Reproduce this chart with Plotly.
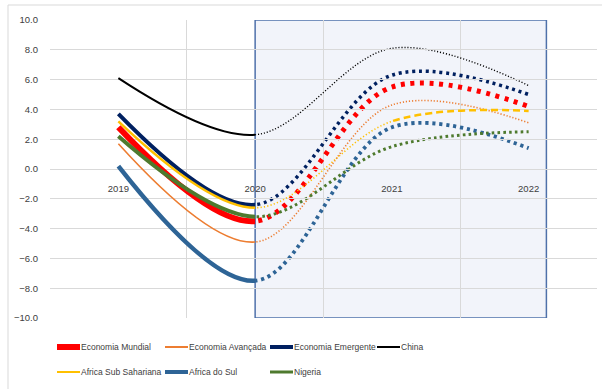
import plotly.graph_objects as go

# Crescimento do PIB (%), 2019-2022
years = ["2019", "2020", "2021", "2022"]
mundial = [2.8, -3.5, 5.5, 4.2]
avancada = [1.7, -4.9, 4.3, 3.1]
emergente = [3.7, -2.4, 6.3, 5.0]
china = [6.1, 2.3, 8.1, 5.6]
africa_ss = [3.2, -2.6, 3.2, 3.9]
africa_sul = [0.2, -7.5, 2.8, 1.4]
nigeria = [2.2, -3.2, 1.5, 2.5]

FONT = "Liberation Sans, Arial, sans-serif"
GRID = "#d9d9d9"
TEXT = "#404040"

# name, values, colour, solid width, dotted width, dotted dash pattern, legend width
series = [
    ("Economia Mundial", mundial, "#ff0000", 6, 5, "4px,5.6px", 6),
    ("Economia Avançada", avancada, "#ed7d31", 1.6, 1.6, "1.2px,1.9px", 2),
    ("Economia Emergente", emergente, "#002060", 4, 3.5, "3px,3.8px", 4),
    ("China", china, "#000000", 2, 1.4, "1.1px,1.9px", 2),
    ("Africa Sub Sahariana", africa_ss, "#ffc000", 2.5, 1.6, "1.2px,2.2px", 2),
    ("Africa do Sul", africa_sul, "#2e6496", 4.5, 3.8, "3.2px,3.8px", 4),
    ("Nigeria", nigeria, "#4e7a2e", 4, 3, "2.6px,3.2px", 3),
]

fig = go.Figure()

# empty trace so the main category axis carries gridlines and labels
fig.add_trace(go.Scatter(x=years, y=[None] * len(years), xaxis="x", yaxis="y",
                         showlegend=False, hoverinfo="skip"))

# observed part (2019-2020): solid smooth line, clipped by axis x2
for name, vals, color, w_solid, w_dot, dash, w_leg in series:
    fig.add_trace(go.Scatter(
        x=years, y=vals, xaxis="x2", yaxis="y", mode="lines", name=name,
        line=dict(color=color, width=w_solid, shape="spline"),
        showlegend=False, hoverinfo="skip"))

# projections (2020-2022): dotted smooth line, clipped by axis x3
for name, vals, color, w_solid, w_dot, dash, w_leg in series:
    if name == "Africa Sub Sahariana":
        continue
    fig.add_trace(go.Scatter(
        x=years, y=vals, xaxis="x3", yaxis="y", mode="lines", name=name,
        line=dict(color=color, width=w_dot, shape="spline", dash=dash),
        showlegend=False, hoverinfo="skip"))

# Africa Sub Sahariana: dotted to 2021, dashed afterwards
fig.add_trace(go.Scatter(
    x=years, y=africa_ss, xaxis="x4", yaxis="y", mode="lines",
    line=dict(color="#ffc000", width=1.6, shape="spline", dash="1.2px,2.2px"),
    showlegend=False, hoverinfo="skip"))
fig.add_trace(go.Scatter(
    x=years, y=africa_ss, xaxis="x5", yaxis="y", mode="lines",
    line=dict(color="#ffc000", width=2.5, shape="spline", dash="7px,4px"),
    showlegend=False, hoverinfo="skip"))

n = len(years)
full = [-0.5, n - 0.5]


def frac(v):
    return (v - full[0]) / (full[1] - full[0])


hidden = dict(visible=False, type="category", categoryarray=years, anchor="y",
              fixedrange=True)

# legend: two rows of four columns, short line sample followed by the name
PLOT_L, PLOT_W, PLOT_B, PLOT_H = 50, 547, 318, 298
col_px = [57, 165, 270, 377]
row_px = [347, 372]
sample_px = 23
shapes = [
    # chart area border
    dict(type="rect", xref="paper", yref="paper", x0=(8 - PLOT_L) / PLOT_W, x1=1.2,
         y0=-0.6, y1=(PLOT_B - 5) / PLOT_H, line=dict(color=GRID, width=1),
         fillcolor="rgba(0,0,0,0)", layer="below"),
    # projection period highlight
    dict(type="rect", xref="x", yref="y", x0=1, x1=3.13, y0=-10, y1=10,
         fillcolor="#f2f4fa", line=dict(color="#4f71aa", width=1.5), layer="below"),
]
annotations = []
for i, (name, vals, color, w_solid, w_dot, dash, w_leg) in enumerate(series):
    cx = col_px[i % 4]
    cy = row_px[i // 4]
    xp0 = (cx - PLOT_L) / PLOT_W
    xp1 = (cx + sample_px - PLOT_L) / PLOT_W
    yp = (PLOT_B - cy) / PLOT_H
    shapes.append(dict(type="line", xref="paper", yref="paper", x0=xp0, x1=xp1,
                       y0=yp, y1=yp, line=dict(color=color, width=w_leg)))
    annotations.append(dict(xref="paper", yref="paper", x=xp1, y=yp, text=name,
                            showarrow=False, xanchor="left", yanchor="middle",
                            borderpad=0,
                            font=dict(family=FONT, size=8.5, color=TEXT)))

fig.update_layout(
    width=602, height=389,
    margin=dict(l=PLOT_L, r=602 - PLOT_L - PLOT_W, t=PLOT_B - PLOT_H, b=389 - PLOT_B),
    paper_bgcolor="white",
    plot_bgcolor="rgba(0,0,0,0)",
    showlegend=False,
    font=dict(family=FONT, size=9, color=TEXT),
    xaxis=dict(type="category", categoryarray=years, range=full,
               tickson="boundaries", showgrid=True, gridcolor=GRID, gridwidth=1,
               ticks="", showline=False, zeroline=False,
               anchor="free", position=0.5, ticklabelstandoff=12,
               tickfont=dict(family=FONT, size=9.5, color=TEXT)),
    xaxis2=dict(hidden, domain=[0, frac(1)], range=[-0.5, 1]),
    xaxis3=dict(hidden, domain=[frac(1), 1], range=[1, n - 0.5]),
    xaxis4=dict(hidden, domain=[frac(1), frac(2)], range=[1, 2]),
    xaxis5=dict(hidden, domain=[frac(2), 1], range=[2, n - 0.5]),
    yaxis=dict(range=[-10, 10], dtick=2, tickformat=".1f", showgrid=True,
               gridcolor=GRID, gridwidth=1, zeroline=True, zerolinecolor=GRID,
               zerolinewidth=1, ticks="", showline=False, ticklabelstandoff=11,
               tickfont=dict(family=FONT, size=9.5, color=TEXT)),
    shapes=shapes,
    annotations=annotations,
)

fig.write_html("out.html")
